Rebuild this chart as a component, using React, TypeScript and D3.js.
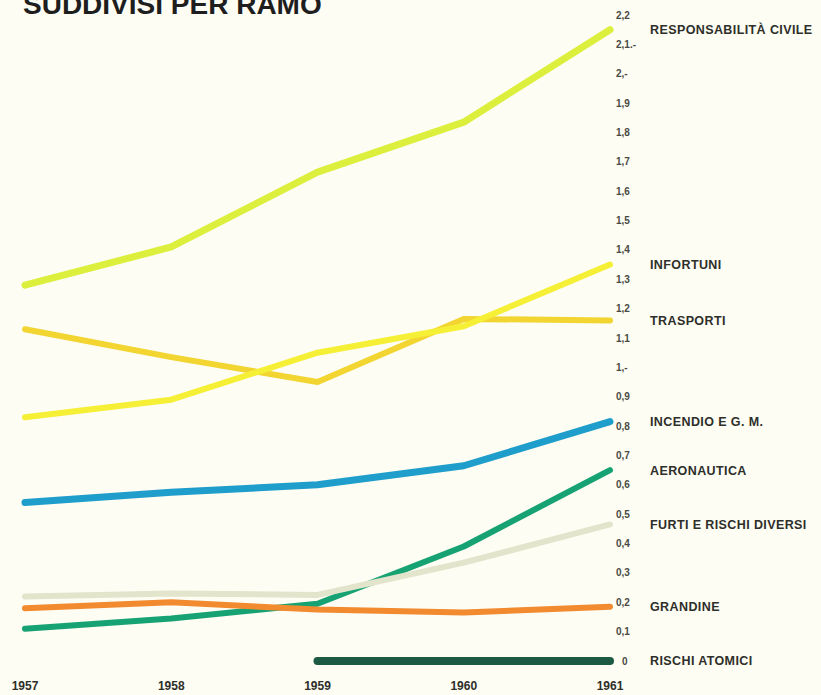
import React from "react";
import * as d3 from "d3";

// Premi per ramo, miliardi di lire, 1957–1961
const years = [1957, 1958, 1959, 1960, 1961];
const respCivile = [1.28, 1.41, 1.665, 1.835, 2.15];
const infortuni = [0.83, 0.89, 1.05, 1.14, 1.35];
const trasporti = [1.13, 1.035, 0.95, 1.165, 1.16];
const incendio = [0.54, 0.575, 0.6, 0.665, 0.815];
const aeronautica = [0.11, 0.145, 0.195, 0.39, 0.65];
const furti = [0.22, 0.23, 0.225, 0.335, 0.465];
const grandine = [0.18, 0.2, 0.175, 0.165, 0.185];
const rischiAtomici: (number | null)[] = [null, null, 0, 0, 0];

const tickValues = [2.2, 2.1, 2.0, 1.9, 1.8, 1.7, 1.6, 1.5, 1.4, 1.3, 1.2, 1.1, 1.0, 0.9, 0.8, 0.7, 0.6, 0.5, 0.4, 0.3, 0.2, 0.1, 0];
const tickLabels = ["2,2", "2,1.-", "2,-", "1,9", "1,8", "1,7", "1,6", "1,5", "1,4", "1,3", "1,2", "1,1", "1,-", "0,9", "0,8", "0,7", "0,6", "0,5", "0,4", "0,3", "0,2", "0,1", "0"];

type Series = { name: string; values: (number | null)[]; color: string; width: number };

// drawing order: first drawn lies underneath
const series: Series[] = [
  { name: "AERONAUTICA", values: aeronautica, color: "#17a273", width: 6 },
  { name: "FURTI E RISCHI DIVERSI", values: furti, color: "#e2e4cb", width: 6 },
  { name: "GRANDINE", values: grandine, color: "#f28a2f", width: 6 },
  { name: "INCENDIO E G. M.", values: incendio, color: "#1f9dcb", width: 7 },
  { name: "TRASPORTI", values: trasporti, color: "#f2d531", width: 6 },
  { name: "INFORTUNI", values: infortuni, color: "#f5ef35", width: 6 },
  { name: "RESPONSABILITÀ CIVILE", values: respCivile, color: "#dcef3d", width: 7 },
  { name: "RISCHI ATOMICI", values: rischiAtomici, color: "#1d5a44", width: 8 },
];

const W = 821;
const H = 695;

export default function App() {
  const x = d3.scaleLinear().domain([1957, 1961]).range([25, 610]);
  const y = d3.scaleLinear().domain([0, 2.2]).range([661, 15]);

  const line = d3
    .line<number | null>()
    .defined((d) => d !== null)
    .x((_, i) => x(years[i]))
    .y((d) => y(d as number));

  const fontLabel = "'Liberation Sans', Arial, sans-serif";

  return (
    <svg
      width={W}
      height={H}
      viewBox={`0 0 ${W} ${H}`}
      style={{ position: "absolute", left: 0, top: 0, display: "block" }}
    >
      <rect width={W} height={H} fill="#fdfdf3" />

      <text
        x={23}
        y={14}
        fontFamily={fontLabel}
        fontWeight="bold"
        fontSize={28}
        fill="#1e1e1e"
      >
        SUDDIVISI PER RAMO
      </text>

      {series.map((s) => (
        <path
          key={s.name}
          d={line(s.values) || ""}
          fill="none"
          stroke={s.color}
          strokeWidth={s.width}
          strokeLinecap="round"
          strokeLinejoin="round"
        />
      ))}

      {tickValues.map((v, i) => (
        <text
          key={tickLabels[i]}
          x={v === 0 ? 622 : 616}
          y={y(v)}
          dy="0.35em"
          fontFamily={fontLabel}
          fontWeight="bold"
          fontSize={10}
          fill="#4a4a44"
        >
          {tickLabels[i]}
        </text>
      ))}

      {series.map((s) => {
        const last = s.values[s.values.length - 1] as number;
        return (
          <text
            key={`lab-${s.name}`}
            x={650}
            y={y(last)}
            dy="0.35em"
            fontFamily={fontLabel}
            fontWeight="bold"
            fontSize={12.5}
            letterSpacing={0.4}
            fill="#2e2e2a"
          >
            {s.name}
          </text>
        );
      })}

      {years.map((yr) => (
        <text
          key={yr}
          x={x(yr)}
          y={686}
          dy="0.35em"
          textAnchor="middle"
          fontFamily={fontLabel}
          fontWeight="bold"
          fontSize={12}
          fill="#2e2e2a"
        >
          {yr}
        </text>
      ))}
    </svg>
  );
}
